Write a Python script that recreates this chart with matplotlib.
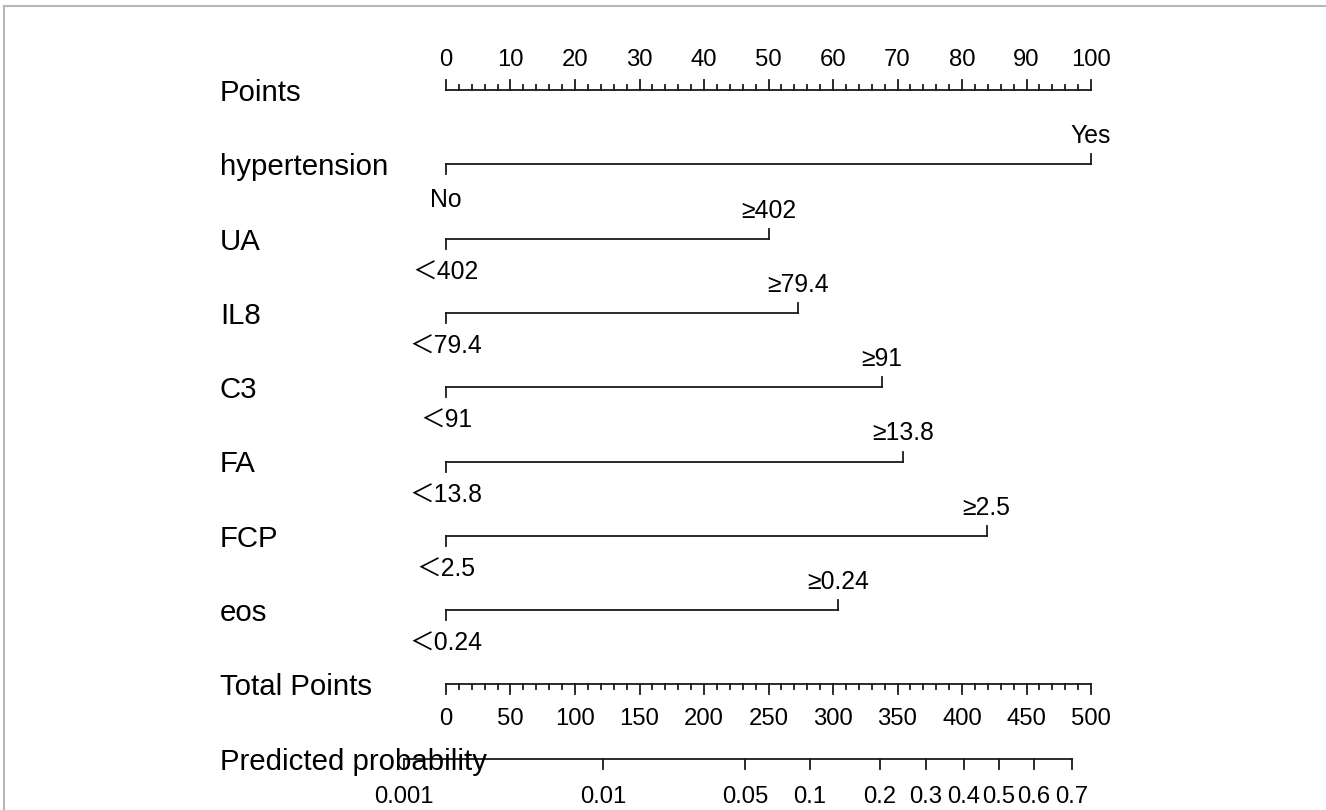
import numpy as np
import matplotlib.pyplot as plt
from matplotlib.lines import Line2D

# nomogram content
row_labels = ["Points", "hypertension", "UA", "IL8", "C3", "FA", "FCP", "eos",
              "Total Points", "Predicted probability"]
predictors = ["hypertension", "UA", "IL8", "C3", "FA", "FCP", "eos"]
low_levels = ["No", "＜402", "＜79.4", "＜91", "＜13.8", "＜2.5", "＜0.24"]
high_levels = ["Yes", "≥402", "≥79.4", "≥91", "≥13.8", "≥2.5", "≥0.24"]
high_points = [100, 50, 54.6, 67.6, 70.9, 83.8, 60.8]

points_ticks = list(range(0, 101, 10))
total_ticks = list(range(0, 501, 50))
prob_ticks = [0.001, 0.01, 0.05, 0.1, 0.2, 0.3, 0.4, 0.5, 0.6, 0.7]
prob_labels = ["0.001", "0.01", "0.05", "0.1", "0.2", "0.3", "0.4", "0.5", "0.6", "0.7"]

# linear predictor = intercept + slope * total points
intercept = -6.417
slope = 0.01497

W, H = 1326, 810
px0, px_per_pt = 446, 6.45   # points 0 sits at x=446 px, 100 at 1091 px
row_y0, row_step = 90, 74.3

fig = plt.figure(figsize=(W / 100, H / 100), dpi=100)
ax = fig.add_axes([0, 0, 1, 1])
ax.set_xlim(-px0 / px_per_pt, (W - px0) / px_per_pt)
ax.set_ylim(H, 0)
ax.axis("off")

FONT = ["Liberation Sans", "Noto Sans CJK SC", "DejaVu Sans"]
lab_fs = 21.2
tick_fs = 17.2
lev_fs = 17.8
lc = "#1a1a1a"
lw = 1.3


def row_y(i):
    return row_y0 + row_step * i


def px(n):
    # pixel length -> points units
    return n / px_per_pt


# frame edge on the left and top
x_left = px(4 - px0)
ax.add_line(Line2D([x_left, x_left], [H, 6], color="#b8b8b8", lw=1.5))
ax.add_line(Line2D([x_left, px(W - px0)], [6, 6], color="#b8b8b8", lw=1.5))

for i, lab in enumerate(row_labels):
    ax.text(px(220 - px0), row_y(i) + 3, lab, fontsize=lab_fs, family=FONT,
            ha="left", va="center")

# Points axis: ticks go up, labels above
y = row_y(0)
ax.plot([0, 100], [y, y], color=lc, lw=lw)
for v in np.arange(0, 101, 2):
    h = 10 if v % 10 == 0 else 5
    ax.plot([v, v], [y, y - h], color=lc, lw=lw)
for v in points_ticks:
    ax.text(v, y - 30, str(v), fontsize=tick_fs, family=FONT, ha="center", va="center")

# predictor axes
for k, name in enumerate(predictors):
    y = row_y(k + 1)
    hp = high_points[k]
    ax.plot([0, hp], [y, y], color=lc, lw=lw)
    ax.plot([0, 0], [y, y + 10], color=lc, lw=lw)
    ax.plot([hp, hp], [y, y - 10], color=lc, lw=lw)
    ax.text(hp, y - 28, high_levels[k], fontsize=lev_fs, family=FONT,
            ha="center", va="center")
    low_dy = 36 if k == 0 else 34
    ax.text(0, y + low_dy, low_levels[k], fontsize=lev_fs, family=FONT,
            ha="center", va="center")

# Total points axis: ticks down, labels below
y = row_y(8)
tp_scale = 100 / 500
ax.plot([0, 500 * tp_scale], [y, y], color=lc, lw=lw)
for v in np.arange(0, 501, 10):
    h = 10 if v % 50 == 0 else 5
    ax.plot([v * tp_scale] * 2, [y, y + h], color=lc, lw=lw)
for v in total_ticks:
    ax.text(v * tp_scale, y + 35, str(v), fontsize=tick_fs, family=FONT,
            ha="center", va="center")

# Predicted probability axis
y = row_y(9)
probs = np.array(prob_ticks)
tot = (np.log(probs / (1 - probs)) - intercept) / slope
xs = tot * tp_scale
ax.plot([xs[0], xs[-1]], [y, y], color=lc, lw=lw)
for xv, lab in zip(xs, prob_labels):
    ax.plot([xv, xv], [y, y + 10], color=lc, lw=lw)
    ax.text(xv, y + 38, lab, fontsize=tick_fs, family=FONT, ha="center", va="center")

fig.savefig("out.png", dpi=100, facecolor="white")
